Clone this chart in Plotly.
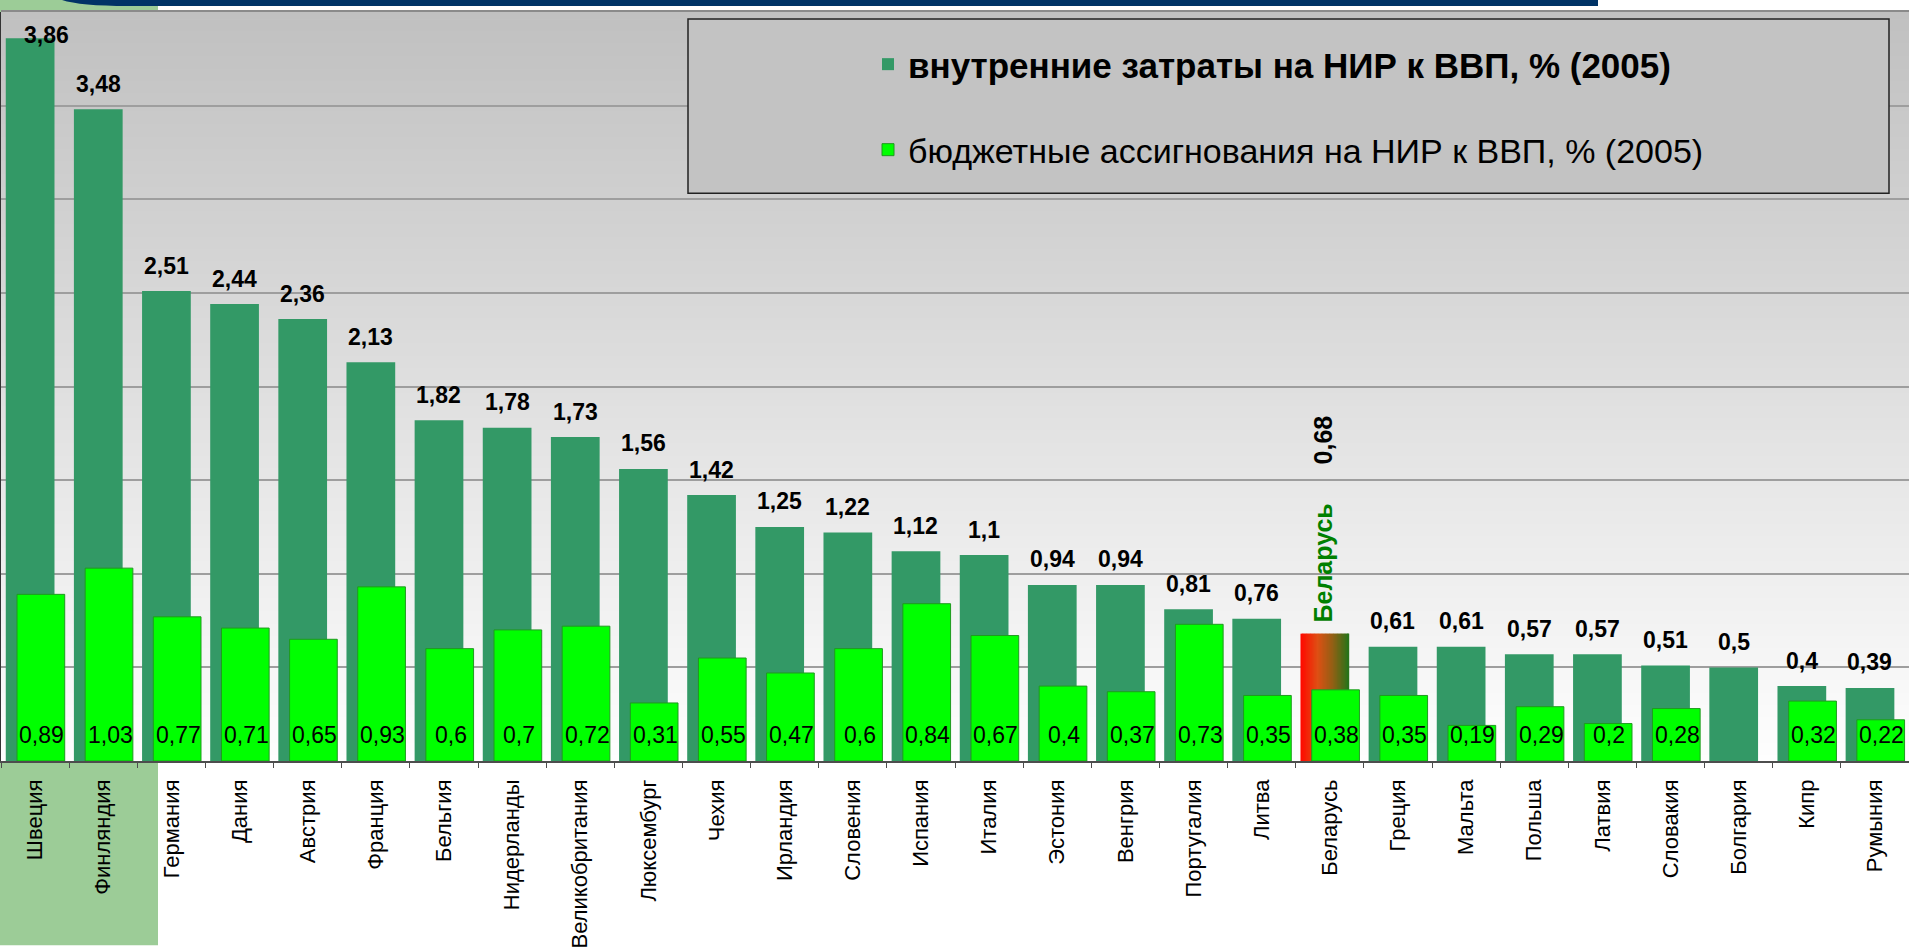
import plotly.graph_objects as go

# ---------------- data ----------------
countries = ["Швеция", "Финляндия", "Германия", "Дания", "Австрия", "Франция", "Бельгия",
             "Нидерланды", "Великобритания", "Люксембург", "Чехия", "Ирландия", "Словения",
             "Испания", "Италия", "Эстония", "Венгрия", "Португалия", "Литва", "Беларусь",
             "Греция", "Мальта", "Польша", "Латвия", "Словакия", "Болгария", "Кипр", "Румыния"]
rd_total = [3.86, 3.48, 2.51, 2.44, 2.36, 2.13, 1.82, 1.78, 1.73, 1.56, 1.42, 1.25, 1.22,
            1.12, 1.1, 0.94, 0.94, 0.81, 0.76, 0.68, 0.61, 0.61, 0.57, 0.57, 0.51, 0.5, 0.4, 0.39]
rd_budget = [0.89, 1.03, 0.77, 0.71, 0.65, 0.93, 0.6, 0.7, 0.72, 0.31, 0.55, 0.47, 0.6,
             0.84, 0.67, 0.4, 0.37, 0.73, 0.35, 0.38, 0.35, 0.19, 0.29, 0.2, 0.28, None, 0.32, 0.22]
name_total = "внутренние затраты на НИР к ВВП, % (2005)"
name_budget = "бюджетные ассигнования на НИР к ВВП, % (2005)"
highlight = "Беларусь"
y_max = 4.0

# ---------------- style ----------------
FONT = "Liberation Sans, Arial, sans-serif"
DARK = "#339966"
LIGHT = "#00ff00"
LIGHT_EDGE = "#1f9a1f"
W, H = 1909, 949
ML, MR, MT, MB = 1, 0, 12, 185
PW, PH = W - ML - MR, H - MT - MB


def px(x):
    return (x - ML) / PW


def py(y):
    return (H - MB - y) / PH


def fmt(v):
    return f"{v:g}".replace(".", ",")


DARK_OFF, DARK_W = -0.43, 0.715
LIGHT_OFF, LIGHT_W = -0.265, 0.70
pitch = PW / len(countries)
dark_center_shift = (DARK_OFF + DARK_W / 2) * pitch
light_center_shift = (LIGHT_OFF + LIGHT_W / 2) * pitch

fig = go.Figure()

hi = countries.index(highlight)
colors_total = ["rgba(0,0,0,0)" if c == highlight else DARK for c in countries]
fig.add_trace(go.Bar(
    x=countries, y=rd_total, name="<b>" + name_total + "</b>",
    marker=dict(color=colors_total, line=dict(width=0)),
    offset=DARK_OFF, width=DARK_W, legendgroup="a", hoverinfo="x+y",
))

# gradient (red -> green) bar for the highlighted country, built from slices
stops = [(0.0, (255, 10, 0)), (0.35, (222, 80, 20)), (0.65, (150, 95, 20)), (1.0, (40, 115, 25))]


def grad(t):
    for (t0, c0), (t1, c1) in zip(stops[:-1], stops[1:]):
        if t <= t1:
            f = (t - t0) / (t1 - t0) if t1 > t0 else 0
            return "rgb(%d,%d,%d)" % tuple(round(a + (b - a) * f) for a, b in zip(c0, c1))
    return "rgb(%d,%d,%d)" % stops[-1][1]


N = 36
for k in range(N):
    off = DARK_OFF + DARK_W * k / N
    w = min(DARK_W / N * 1.8, DARK_OFF + DARK_W - off)
    fig.add_trace(go.Bar(
        x=[highlight], y=[rd_total[hi]], offset=off, width=w,
        marker=dict(color=grad(k / (N - 1)), line=dict(width=0)),
        showlegend=False, hoverinfo="skip",
    ))

fig.add_trace(go.Bar(
    x=countries, y=rd_budget, name='<span style="font-size:34px">' + name_budget + "</span>",
    marker=dict(color=LIGHT, line=dict(color=LIGHT_EDGE, width=1)),
    offset=LIGHT_OFF, width=LIGHT_W, legendgroup="b", hoverinfo="x+y",
))

# ---------------- annotations (value labels) ----------------
ann = []
unit_px = PH / y_max
for i, (c, v) in enumerate(zip(countries, rd_total)):
    if c == highlight:
        continue
    ys, xs = 25.5, dark_center_shift
    if v + (ys + 8) / unit_px > y_max:  # no room above: label drawn over bar top
        ys, xs = 3, 11
    ann.append(dict(x=c, y=v, xref="x", yref="y", text="<b>" + fmt(v) + "</b>", showarrow=False,
                    yshift=ys, xshift=xs, yanchor="middle", xanchor="center",
                    font=dict(family=FONT, size=23, color="black")))
for c, v in zip(countries, rd_budget):
    if v is None:
        continue
    ann.append(dict(x=c, y=0, xref="x", yref="y", text=fmt(v), showarrow=False,
                    yshift=26, xshift=light_center_shift + 1, yanchor="middle", xanchor="center",
                    font=dict(family=FONT, size=23, color="black")))
ann.append(dict(x=highlight, y=rd_total[hi], xref="x", yref="y", text="<b>" + highlight + "</b>",
                showarrow=False, textangle=-90, yshift=71, xshift=-7, yanchor="middle",
                font=dict(family=FONT, size=25, color="#008000")))
ann.append(dict(x=highlight, y=rd_total[hi], xref="x", yref="y", text="<b>" + fmt(rd_total[hi]) + "</b>",
                showarrow=False, textangle=-90, yshift=194, xshift=-7, yanchor="middle",
                font=dict(family=FONT, size=25, color="black")))

# ---------------- decorative shapes ----------------
shapes = []
# light-green column behind the first two categories
shapes.append(dict(type="rect", xref="paper", yref="paper", x0=px(0), x1=px(158), y0=py(H), y1=py(0),
                   fillcolor="#9ccc97", line=dict(width=0), layer="below"))
# vertical gradient background of the plot area
NB = 120
g_top, g_bot = 192, 254
for k in range(NB):
    y0 = k / NB
    y1 = min(1.0, (k + 1.6) / NB)
    t = (k + 0.5) / NB
    g = round(g_bot + (g_top - g_bot) * t)
    shapes.append(dict(type="rect", xref="paper", yref="paper", x0=0, x1=1, y0=y0, y1=y1,
                       fillcolor="rgb(%d,%d,%d)" % (g, g, g), line=dict(width=0), layer="below"))
# dark blue banner at the top
bx0, bx1, bxc = px(62), px(1598), px(128)
by0, by1 = py(0), py(6)
shapes.append(dict(type="path", xref="paper", yref="paper",
                   path=f"M {bx0},{by0} Q {px(80)},{by1} {bxc},{by1} L {bx1},{by1} L {bx1},{by0} Z",
                   fillcolor="#003366", line=dict(width=0), layer="below"))
# top border of plot
shapes.append(dict(type="line", xref="paper", yref="paper", x0=0, x1=1, y0=py(11), y1=py(11),
                   line=dict(color="#8a8a8a", width=2), layer="above"))
# legend frame
shapes.append(dict(type="rect", xref="paper", yref="paper", x0=px(688), x1=px(1889), y0=py(194), y1=py(19),
                   fillcolor="#c3c3c3", line=dict(color="#222222", width=1.5), layer="above"))

fig.update_layout(
    width=W, height=H,
    margin=dict(l=ML, r=MR, t=MT, b=MB, pad=0),
    paper_bgcolor="white", plot_bgcolor="rgba(0,0,0,0)",
    barmode="overlay",
    font=dict(family=FONT, color="black"),
    showlegend=True,
    legend=dict(x=px(868), xanchor="left", y=py(35), yanchor="top",
                bgcolor="rgba(0,0,0,0)", borderwidth=0, tracegroupgap=37,
                font=dict(family=FONT, size=35, color="black")),
    xaxis=dict(type="category", range=[-0.5, len(countries) - 0.5], showline=True,
               linecolor="#4d4d4d", linewidth=1.5, ticks="outside", tickson="boundaries",
               ticklen=5, tickcolor="#4d4d4d", tickwidth=1, tickangle=-90,
               tickfont=dict(family=FONT, size=22, color="black"), showgrid=False,
               ticklabelstandoff=8),
    yaxis=dict(range=[0, y_max], dtick=0.5, tick0=0, showgrid=True, gridcolor="#9e9e9e",
               gridwidth=1.5, showticklabels=False, ticks="", showline=True,
               linecolor="#333333", linewidth=1.5, zeroline=False),
    annotations=ann, shapes=shapes,
)

fig.write_html("out.html", config={"displayModeBar": False},
               post_script="document.body.style.margin='0';document.body.style.overflow='hidden';")
